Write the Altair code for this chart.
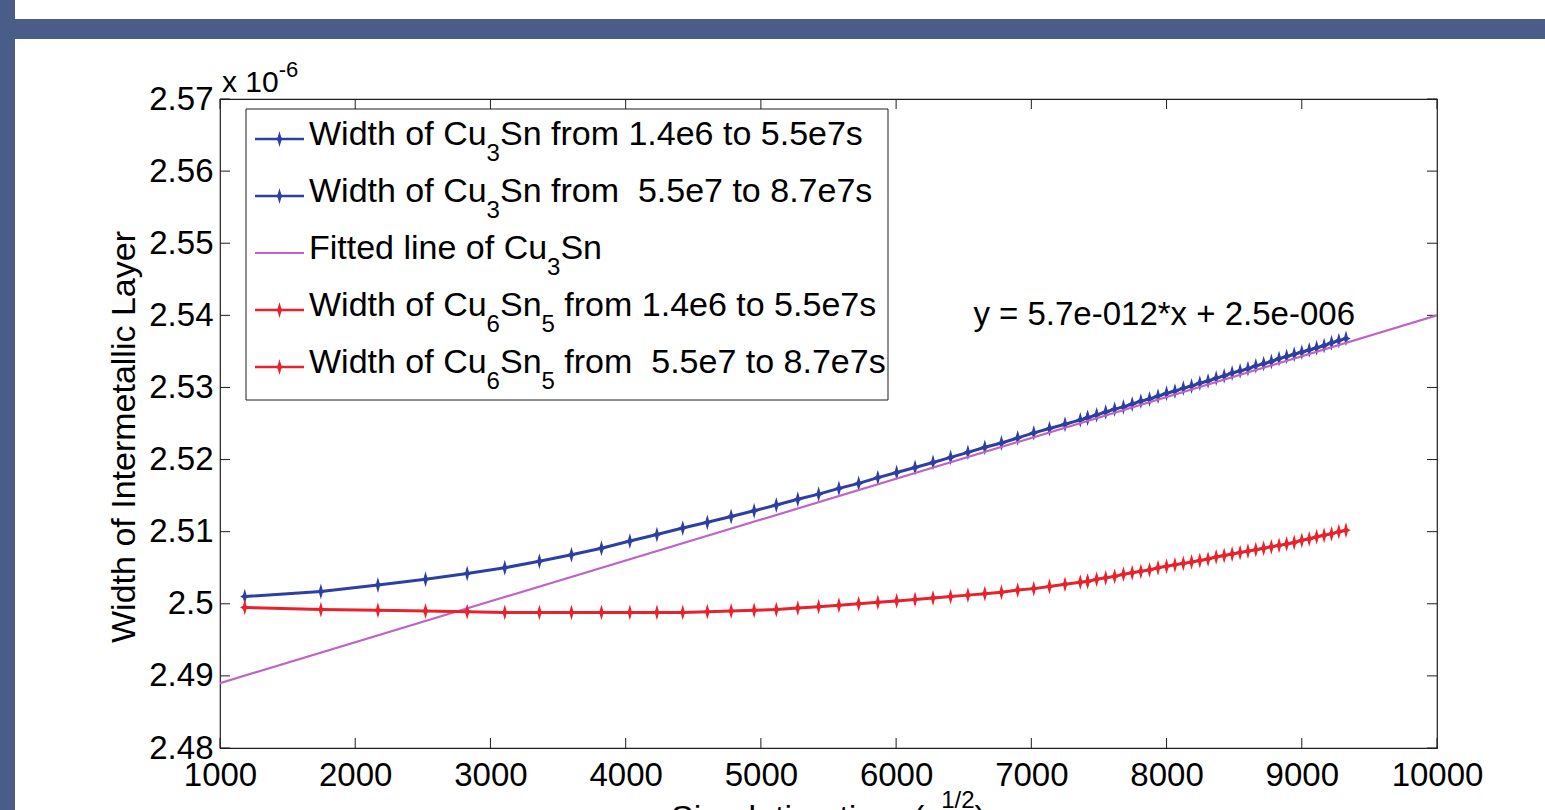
import re
import altair as alt
import pandas as pd

# ---------------- data ----------------
# x = simulation time in s^(1/2); y = layer width in units of 1e-6
x_seg1 = [1183, 1746, 2168, 2520, 2828, 3106, 3362, 3599, 3821, 4031, 4231, 4422,
          4604, 4780, 4950, 5114, 5273, 5427, 5577, 5723, 5865, 6004, 6140, 6273,
          6403, 6531, 6656, 6779, 6899, 7018, 7134, 7249, 7362, 7416]
x_seg2 = [7416, 7483, 7550, 7616, 7681, 7746, 7810, 7874, 7937, 8000, 8062, 8124,
          8185, 8246, 8307, 8367, 8426, 8485, 8544, 8602, 8660, 8718, 8775, 8832,
          8888, 8944, 9000, 9055, 9110, 9165, 9220, 9274, 9327]

cu3sn_seg1 = [2.5010, 2.5017, 2.5026, 2.5034, 2.5042, 2.5050, 2.5059, 2.5068, 2.5077,
              2.5087, 2.5096, 2.5105, 2.5113, 2.5121, 2.5129, 2.5137, 2.5145, 2.5152,
              2.5160, 2.5167, 2.5175, 2.5182, 2.5189, 2.5196, 2.5203, 2.5210, 2.5217,
              2.5223, 2.5230, 2.5237, 2.5243, 2.5249, 2.5255, 2.5258]
cu3sn_seg2 = [2.5258, 2.5262, 2.5266, 2.5270, 2.5273, 2.5277, 2.5281, 2.5284, 2.5288,
              2.5292, 2.5295, 2.5299, 2.5302, 2.5306, 2.5309, 2.5313, 2.5316, 2.5320,
              2.5323, 2.5326, 2.5330, 2.5333, 2.5336, 2.5340, 2.5343, 2.5346, 2.5349,
              2.5352, 2.5355, 2.5358, 2.5362, 2.5365, 2.5368]
cu6sn5_seg1 = [2.4995, 2.4992, 2.4991, 2.4990, 2.4989, 2.4988, 2.4988, 2.4988, 2.4988,
               2.4988, 2.4988, 2.4988, 2.4989, 2.4990, 2.4991, 2.4992, 2.4994, 2.4996,
               2.4998, 2.5000, 2.5002, 2.5004, 2.5006, 2.5008, 2.5010, 2.5012, 2.5014,
               2.5016, 2.5019, 2.5021, 2.5024, 2.5027, 2.5030, 2.5031]
cu6sn5_seg2 = [2.5031, 2.5034, 2.5036, 2.5038, 2.5041, 2.5043, 2.5045, 2.5047, 2.5050,
               2.5052, 2.5054, 2.5056, 2.5058, 2.5060, 2.5062, 2.5065, 2.5067, 2.5069,
               2.5071, 2.5073, 2.5075, 2.5077, 2.5079, 2.5081, 2.5083, 2.5085, 2.5088,
               2.5090, 2.5093, 2.5095, 2.5097, 2.5100, 2.5102]
fit_x = [1000, 10000]
fit_y = [2.489, 2.540]

x_ticks = [1000, 2000, 3000, 4000, 5000, 6000, 7000, 8000, 9000, 10000]
y_ticks = [2.48, 2.49, 2.50, 2.51, 2.52, 2.53, 2.54, 2.55, 2.56, 2.57]

equation_text = "y = 5.7e-012*x + 2.5e-006"
y_title = "Width of Intermetallic Layer"

# ---------------- style ----------------
W, H = 1217, 649
FONT = "Liberation Sans"
BLUE = "#2d3fa3"
RED = "#e8222b"
MAG = "#c062c6"
FRAME = "#1e1e1e"
DECOR = "#4a5d88"
MARK = "M0,-1L0.22,-0.22L0.6,0L0.22,0.22L0,1L-0.22,0.22L-0.6,0L-0.22,-0.22Z"
MSIZE = 130
F = 34
TICKF = 33

xs = alt.Scale(domain=[1000, 10000], nice=False, zero=False)
ys = alt.Scale(domain=[2.48, 2.57], nice=False, zero=False)
x_axis = alt.Axis(values=x_ticks, format="d", title=None, ticks=False, domain=False,
                  grid=False, labelFontSize=TICKF, labelFont=FONT, labelColor="black",
                  labelPadding=11, labelFlush=False, labelOverlap=False)
y_axis = alt.Axis(values=y_ticks, format=".2~f", title=None, ticks=False, domain=False,
                  grid=False, labelFontSize=TICKF, labelFont=FONT, labelColor="black",
                  labelPadding=7, labelFlush=False, labelOverlap=False)


def X():
    return alt.X("x:Q", scale=xs, axis=x_axis)


def Y():
    return alt.Y("y:Q", scale=ys, axis=y_axis)


one = pd.DataFrame({"k": [0]})

AW = {' ': 278, '(': 333, ')': 333, '*': 389, '+': 584, '-': 333, '.': 278, '/': 278,
      '=': 584, 'C': 722, 'F': 611, 'I': 278, 'L': 556, 'S': 667, 'W': 944, 'a': 556,
      'c': 500, 'd': 556, 'e': 556, 'f': 278, 'h': 556, 'i': 222, 'l': 222, 'm': 833,
      'n': 556, 'o': 556, 'r': 333, 's': 500, 't': 278, 'u': 556, 'x': 500, 'y': 500}


def tw(s, size):
    return sum(AW.get(c, 556) for c in s) * size / 1000.0


def text_layer(txt, px, py, size, align="left", baseline="alphabetic", angle=0):
    kw = dict(text=txt, fontSize=size, font=FONT, color="black", align=align,
              baseline=baseline)
    if angle:
        kw["angle"] = angle
    return alt.Chart(one).mark_text(**kw).encode(x=alt.value(px), y=alt.value(py))


def rich(pieces, x0, base, size, sub_dy=None, sup_dy=None):
    """pieces: list of (text, kind) kind in n/sub/sup; returns layers"""
    out = []
    x = x0
    sub_dy = round(size * 0.46) if sub_dy is None else sub_dy
    sup_dy = -round(size * 0.5) if sup_dy is None else sup_dy
    for txt, kind in pieces:
        s = size if kind == "n" else round(size * 0.72)
        b = base + (0 if kind == "n" else (sub_dy if kind == "sub" else sup_dy))
        for tok in re.split(r"( +)", txt):
            if tok == "":
                continue
            if tok.strip() == "":
                x += tw(tok, s)
            else:
                out.append(text_layer(tok, x, b, s))
                x += tw(tok, s)
    return out


layers = []

# decoration (slide frame)
layers.append(alt.Chart(one).mark_rect(color=DECOR).encode(
    x=alt.value(-220), x2=alt.value(-205), y=alt.value(-99), y2=alt.value(711)))
layers.append(alt.Chart(one).mark_rect(color=DECOR).encode(
    x=alt.value(-205), x2=alt.value(1325), y=alt.value(-80), y2=alt.value(-60)))

# inward ticks
df_yt = pd.DataFrame({"y": y_ticks})
df_xt = pd.DataFrame({"x": x_ticks})
layers.append(alt.Chart(df_yt).mark_rule(color=FRAME, strokeWidth=1).encode(
    y=Y(), x=alt.value(0), x2=alt.value(10)))
layers.append(alt.Chart(df_yt).mark_rule(color=FRAME, strokeWidth=1).encode(
    y=Y(), x=alt.value(W - 10), x2=alt.value(W)))
layers.append(alt.Chart(df_xt).mark_rule(color=FRAME, strokeWidth=1).encode(
    x=X(), y=alt.value(H - 10), y2=alt.value(H)))
layers.append(alt.Chart(df_xt).mark_rule(color=FRAME, strokeWidth=1).encode(
    x=X(), y=alt.value(0), y2=alt.value(10)))


def series(xv, yv, color):
    df = pd.DataFrame({"x": xv, "y": yv})
    ln = alt.Chart(df).mark_line(color=color, strokeWidth=3).encode(x=X(), y=Y())
    pt = alt.Chart(df).mark_point(shape=MARK, filled=True, size=MSIZE, color=color,
                                  opacity=1, stroke=color, strokeWidth=1.2).encode(x=X(), y=Y())
    return [ln, pt]


layers += series(x_seg1, cu3sn_seg1, BLUE)
layers += series(x_seg2, cu3sn_seg2, BLUE)
layers.append(alt.Chart(pd.DataFrame({"x": fit_x, "y": fit_y})).mark_line(
    color=MAG, strokeWidth=2.2, clip=True).encode(x=X(), y=Y()))
layers += series(x_seg1, cu6sn5_seg1, RED)
layers += series(x_seg2, cu6sn5_seg2, RED)

# legend box
layers.append(alt.Chart(one).mark_rect(fill="white", stroke=FRAME, strokeWidth=1).encode(
    x=alt.value(26), x2=alt.value(668), y=alt.value(10), y2=alt.value(301)))
legend_rows = [
    ([("Width of Cu", "n"), ("3", "sub"), ("Sn from 1.4e6 to 5.5e7s", "n")], BLUE, True),
    ([("Width of Cu", "n"), ("3", "sub"), ("Sn from  5.5e7 to 8.7e7s", "n")], BLUE, True),
    ([("Fitted line of Cu", "n"), ("3", "sub"), ("Sn", "n")], MAG, False),
    ([("Width of Cu", "n"), ("6", "sub"), ("Sn", "n"), ("5", "sub"), (" from 1.4e6 to 5.5e7s", "n")], RED, True),
    ([("Width of Cu", "n"), ("6", "sub"), ("Sn", "n"), ("5", "sub"), (" from  5.5e7 to 8.7e7s", "n")], RED, True),
]
for i, (pieces, color, has_marker) in enumerate(legend_rows):
    ly = 40 + 57 * i
    layers.append(alt.Chart(one).mark_rule(color=color, strokeWidth=2.5 if has_marker else 2.2).encode(
        x=alt.value(35), x2=alt.value(84), y=alt.value(ly)))
    if has_marker:
        layers.append(alt.Chart(one).mark_point(shape=MARK, filled=True, size=MSIZE, color=color,
                                                opacity=1, stroke=color, strokeWidth=1.2).encode(
            x=alt.value(59.5), y=alt.value(ly)))
    layers += rich(pieces, 89, ly + 6, F)

# equation annotation
layers.append(text_layer(equation_text, 1135, 226, 33, align="right"))

# exponent label
layers += rich([("x 10", "n"), ("-6", "sup")], 2, -7, 30)

# y title
layers.append(text_layer(y_title, -95, 338, F, align="center", baseline="middle", angle=270))

# x title (cut off at bottom of the picture)
xt_pieces = [("Simulation time (s", "n"), ("1/2", "sup"), (")", "n")]
xt_w = tw("Simulation time (s", F) + tw("1/2", round(F * 0.72)) + tw(")", F)
layers += rich(xt_pieces, W / 2 - xt_w / 2, 730, F, sup_dy=-21)

chart = alt.layer(*layers).properties(
    width=W, height=H,
    autosize=alt.AutoSizeParams(type="none"),
    padding={"left": 220, "top": 99, "right": 108, "bottom": 62},
    background="white",
).configure_view(stroke=FRAME, strokeWidth=1.2)

chart.save("out.html", embed_options={"renderer": "svg", "actions": False})
